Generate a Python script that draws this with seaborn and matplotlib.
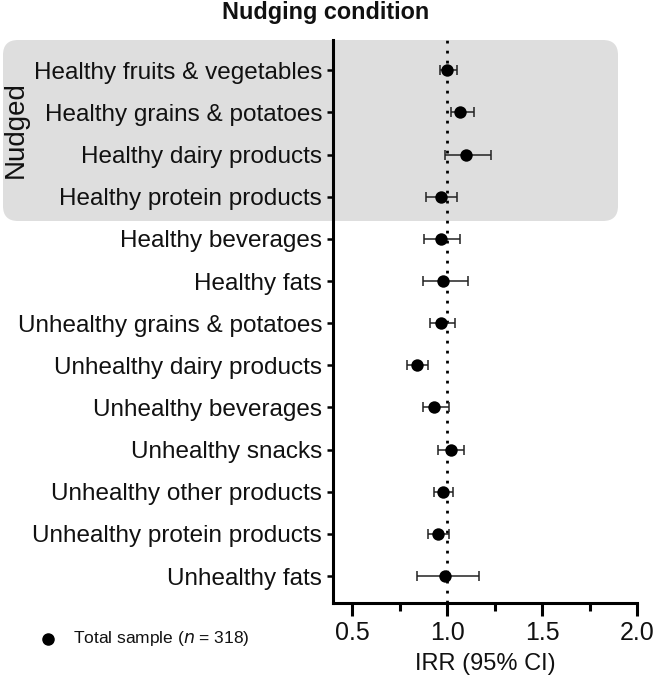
import numpy as np
import pandas as pd
import matplotlib
matplotlib.use("Agg")
import matplotlib.pyplot as plt
from matplotlib.patches import FancyBboxPatch
from matplotlib.lines import Line2D
import seaborn as sns

categories = [
    "Healthy fruits & vegetables",
    "Healthy grains & potatoes",
    "Healthy dairy products",
    "Healthy protein products",
    "Healthy beverages",
    "Healthy fats",
    "Unhealthy grains & potatoes",
    "Unhealthy dairy products",
    "Unhealthy beverages",
    "Unhealthy snacks",
    "Unhealthy other products",
    "Unhealthy protein products",
    "Unhealthy fats",
]
irr = [1.00, 1.07, 1.10, 0.97, 0.97, 0.98, 0.97, 0.84, 0.93, 1.02, 0.98, 0.95, 0.99]
ci_low = [0.96, 1.02, 0.99, 0.89, 0.88, 0.87, 0.91, 0.79, 0.87, 0.95, 0.93, 0.90, 0.84]
ci_high = [1.05, 1.14, 1.23, 1.05, 1.07, 1.11, 1.04, 0.90, 1.01, 1.09, 1.03, 1.01, 1.17]
x_ticks = [0.5, 1.0, 1.5, 2.0]
x_tick_labels = ["0.5", "1.0", "1.5", "2.0"]

sns.set_theme(style="ticks")
plt.rcParams["font.family"] = ["Liberation Sans", "DejaVu Sans"]

df = pd.DataFrame({"category": categories, "irr": irr, "lo": ci_low, "hi": ci_high})
df["pos"] = np.arange(len(df))

fig = plt.figure(figsize=(6.55, 6.86), dpi=100)
ax = fig.add_axes([333.3 / 655, 83 / 686, (637 - 333.3) / 655, (603 - 40) / 686])
ax.patch.set_visible(False)

# gray "Nudged" box in inches
r = 0.15
x0, x1 = 0.03, 6.18
y0, y1 = (686 - 221) / 100, (686 - 40) / 100
box = FancyBboxPatch((x0, y0), x1 - x0, y1 - y0,
                     boxstyle=f"round,pad=0,rounding_size={r}",
                     transform=fig.dpi_scale_trans, facecolor="#dedede",
                     edgecolor="none", zorder=-5)
fig.patches.append(box)

ax.axvline(1.0, color="black", linestyle=(0, (1, 2.6)), linewidth=2.0, zorder=1)

ax.errorbar(df["irr"], df["pos"],
            xerr=[df["irr"] - df["lo"], df["hi"] - df["irr"]],
            fmt="none", ecolor="#222222", elinewidth=1.1, capsize=3.8,
            capthick=1.1, zorder=2)
sns.scatterplot(data=df, x="irr", y="pos", ax=ax, color="black", s=80,
                edgecolor="black", linewidth=0, zorder=3, legend=False)

ax.set_xlim(0.4, 2.0)
ax.set_ylim(len(df) - 1 + 0.64, -0.72)
ax.set_yticks(df["pos"])
ax.set_yticklabels(df["category"], fontsize=17.5, color="#111111")
ax.set_xticks(x_ticks)
ax.set_xticklabels(x_tick_labels, fontsize=18, color="#111111")
ax.set_xticks([0.75, 1.25, 1.75], minor=True)
ax.tick_params(axis="y", length=4, width=1.8, pad=4, color="black")
ax.tick_params(axis="x", which="major", length=9, width=2.2, pad=4, color="black")
ax.tick_params(axis="x", which="minor", length=6, width=2.2, color="black")
ax.set_xlabel("IRR (95% CI)", fontsize=17, color="#111111", labelpad=6)
ax.set_ylabel("")
for s in ["top", "right"]:
    ax.spines[s].set_visible(False)
for s in ["left", "bottom"]:
    ax.spines[s].set_linewidth(2.2)
    ax.spines[s].set_color("black")

fig.text(0.497, 1 - 13 / 686, "Nudging condition", ha="center", va="center",
         fontsize=16.8, fontweight="bold", color="#111111")
fig.text(16 / 655, 1 - 130 / 686, "Nudged", rotation=90, ha="center",
         va="center", fontsize=20, color="#111111")

# legend
fig.add_artist(Line2D([48 / 655], [1 - 639 / 686], marker="o", color="black",
                      markersize=8, linestyle="none", transform=fig.transFigure))
fig.text(73 / 655, 1 - 639 / 686, "Total sample ($\\it{n}$ = 318)", ha="left",
         va="center", fontsize=12.5, color="#111111")

fig.savefig("out.png", dpi=100)
